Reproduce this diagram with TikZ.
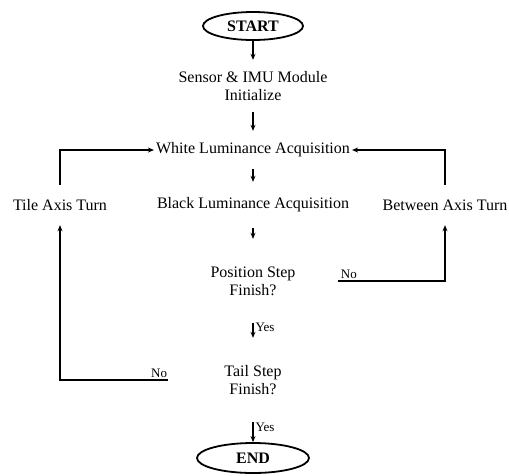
\documentclass[tikz,border=0pt]{standalone}
\usepackage{fontspec}
\setmainfont{Liberation Serif}
\usetikzlibrary{arrows.meta,shapes.geometric}

\begin{document}
\begin{tikzpicture}[x=1pt,y=-1pt,font=\fontsize{16}{18}\selectfont,
  term/.style={ellipse,draw=black,line width=1.8pt,inner sep=0pt,font=\fontsize{16}{18}\selectfont\bfseries},
  stepbox/.style={align=center,inner xsep=2pt,inner ysep=0pt},
  check/.style={align=center,inner sep=0pt,minimum width=170pt,minimum height=84pt},
  lab/.style={font=\fontsize{13}{15}\selectfont,inner sep=2pt},
  flow/.style={->,line width=1.2pt},
  >={Stealth[length=6pt,width=5pt]}]
  \useasboundingbox (0,0) rectangle (509,475);
  \node[term,minimum width=100pt,minimum height=28pt] (start) at (253,26) {START};
  \node[stepbox,minimum height=52pt] (init) at (253,86) {Sensor \& IMU Module\\Initialize};
  \node[stepbox,minimum height=38pt] (white) at (253,150) {White Luminance Acquisition};
  \node[stepbox,minimum height=46pt] (black) at (253,205) {Black Luminance Acquisition};
  \node[stepbox,minimum height=40pt] (tile) at (60,205) {Tile Axis Turn};
  \node[stepbox,minimum height=40pt] (between) at (445,205) {Between Axis Turn};
  \node[check] (pos) at (253,281) {Position Step\\Finish?};
  \node[check] (tail) at (253,380) {Tail Step\\Finish?};
  \node[term,minimum width=112pt,minimum height=30pt] (end) at (253,458) {END};
  \draw[flow] (start) -- (init);
  \draw[flow] (init) -- (white);
  \draw[flow] (white) -- (black);
  \draw[flow] (black) -- (pos);
  \draw[flow] (pos) -- node[lab,right,pos=0.25]{Yes} (tail);
  \draw[flow] (tail) -- node[lab,right,pos=0.25]{Yes} (end);
  \draw[flow] (pos.east) -| node[lab,above,pos=0.05]{No} (between.south);
  \draw[flow] (tail.west) -| node[lab,above,pos=0.04]{No} (tile.south);
  \draw[flow] (tile.north) |- (white.west);
  \draw[flow] (between.north) |- (white.east);
\end{tikzpicture}
\end{document}
